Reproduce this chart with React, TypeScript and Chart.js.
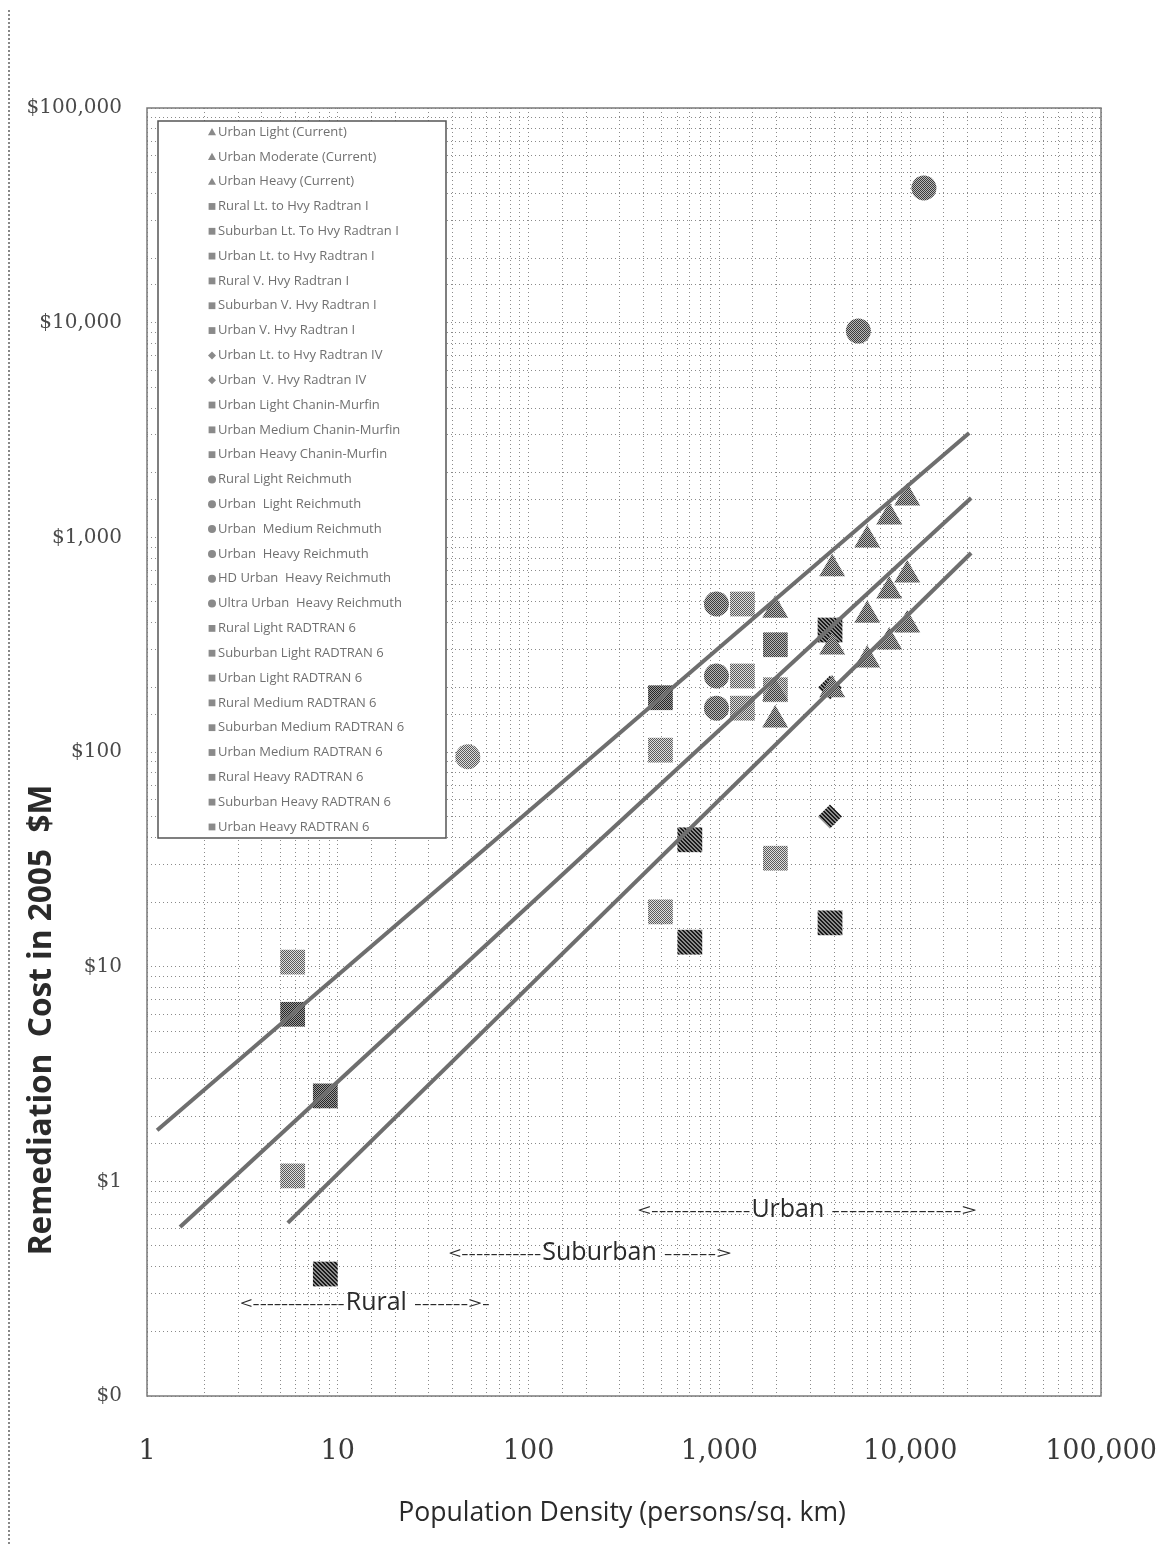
import React, { useEffect, useRef } from 'react';
import { Chart, registerables } from 'chart.js';

Chart.register(...registerables);

// ---------- data ----------
const xDecades = [1, 10, 100, 1000, 10000, 100000];
const xTickLabels = ['1', '10', '100', '1,000', '10,000', '100,000'];
const yDecades = [0.1, 1, 10, 100, 1000, 10000, 100000];
const yTickLabels = ['$0', '$1', '$10', '$100', '$1,000', '$10,000', '$100,000'];

// Current-practice estimates (triangles)
const currentLabels = ['Urban Light (Current)', 'Urban Moderate (Current)', 'Urban Heavy (Current)'];
const currentX = [1960, 3900, 5955, 7760, 9650];
const urbanLightCurrentY = [141, 195, 268, 325, 391];
const urbanModerateCurrentY = [188, 308, 434, 562, 668];
const urbanHeavyCurrentY = [458, 713, 973, 1245, 1524];

// Radtran I (hatched squares)
const radtranILabels = [
  'Rural Lt. to Hvy Radtran I',
  'Suburban Lt. To Hvy Radtran I',
  'Urban Lt. to Hvy Radtran I',
  'Rural V. Hvy Radtran I',
  'Suburban V. Hvy Radtran I',
  'Urban V. Hvy Radtran I',
];
const radtranIX = [8.6, 700, 3800, 8.6, 700, 3800];
const radtranIY = [0.37, 13, 16, 2.5, 39, 370];

// Radtran IV (diamonds)
const radtranIVLabels = ['Urban Lt. to Hvy Radtran IV', 'Urban  V. Hvy Radtran IV'];
const radtranIVX = [3800, 3800];
const radtranIVY = [50, 200];

// Chanin-Murfin (squares)
const chaninLabels = ['Urban Light Chanin-Murfin', 'Urban Medium Chanin-Murfin', 'Urban Heavy Chanin-Murfin'];
const chaninX = [1320, 1320, 1320];
const chaninY = [160, 226, 489];

// Reichmuth (circles)
const reichLabels = [
  'Rural Light Reichmuth',
  'Urban  Light Reichmuth',
  'Urban  Medium Reichmuth',
  'Urban  Heavy Reichmuth',
  'HD Urban  Heavy Reichmuth',
  'Ultra Urban  Heavy Reichmuth',
];
const reichX = [48, 965, 965, 965, 5350, 11800];
const reichY = [95, 160, 226, 489, 9140, 42400];

// RADTRAN 6 (squares)
const radtran6Labels = [
  'Rural Light RADTRAN 6',
  'Suburban Light RADTRAN 6',
  'Urban Light RADTRAN 6',
  'Rural Medium RADTRAN 6',
  'Suburban Medium RADTRAN 6',
  'Urban Medium RADTRAN 6',
  'Rural Heavy RADTRAN 6',
  'Suburban Heavy RADTRAN 6',
  'Urban Heavy RADTRAN 6',
];
const radtran6X = [5.8, 491, 1965, 5.8, 491, 1965, 5.8, 491, 1965];
const radtran6Y = [1.06, 18, 32, 6.0, 102, 195, 10.5, 179, 316];
const radtran6Shade = ['light', 'light', 'light', 'dark', 'light', 'light', 'light', 'dark', 'medium'];

// Trend lines (two end points each)
const trendX1 = [1.13, 1.49, 5.47];
const trendY1 = [1.73, 0.613, 0.64];
const trendX2 = [20370, 20860, 20860];
const trendY2 = [3063, 1524, 845];

// Region annotations
const regionNames = ['Urban', 'Suburban', 'Rural'];
const regionLeftText = ['<-------------', '<-----------', '<-------------'];
const regionRightText = ['--------------->', '------>', '------->-'];
const regionStartX = [372, 38, 3.07];
const regionWordX = [1471, 118, 11.0];
const regionEndX = [22400, 1160, 62.5];
const regionY = [0.736, 0.463, 0.271];

const isDecade = (v: number) => {
  const l = Math.log10(v);
  return Math.abs(l - Math.round(l)) < 1e-9;
};

function makePattern(ctx: CanvasRenderingContext2D, fg: string, bg: string, kind: string) {
  const c = document.createElement('canvas');
  c.width = 4;
  c.height = 4;
  const g = c.getContext('2d')!;
  g.fillStyle = bg;
  g.fillRect(0, 0, 4, 4);
  g.fillStyle = fg;
  if (kind === 'hatch') {
    for (let i = 0; i < 4; i++) {
      g.fillRect(i, i, 1, 1);
      g.fillRect((i + 1) % 4, i, 1, 1);
    }
  } else {
    for (let y = 0; y < 4; y++) for (let x = 0; x < 4; x++) if ((x + y) % 2 === 0) g.fillRect(x, y, 1, 1);
  }
  return ctx.createPattern(c, 'repeat')!;
}

function drawFit(ctx: CanvasRenderingContext2D, text: string, x0: number, x1: number, y: number, font: string) {
  ctx.save();
  ctx.font = font;
  const w = ctx.measureText(text).width;
  ctx.translate(x0, y);
  ctx.scale(Math.max(0.2, (x1 - x0) / w), 1);
  ctx.textAlign = 'left';
  ctx.textBaseline = 'middle';
  ctx.fillText(text, 0, 0);
  ctx.restore();
}

function drawMarker(ctx: CanvasRenderingContext2D, style: string, x: number, y: number, r: number) {
  ctx.beginPath();
  if (style === 'circle') {
    ctx.arc(x, y, r, 0, Math.PI * 2);
  } else if (style === 'triangle') {
    ctx.moveTo(x, y - r);
    ctx.lineTo(x + r, y + r * 0.8);
    ctx.lineTo(x - r, y + r * 0.8);
    ctx.closePath();
  } else if (style === 'rectRot') {
    ctx.moveTo(x, y - r);
    ctx.lineTo(x + r, y);
    ctx.lineTo(x, y + r);
    ctx.lineTo(x - r, y);
    ctx.closePath();
  } else {
    ctx.rect(x - r * 0.85, y - r * 0.85, r * 1.7, r * 1.7);
  }
  ctx.fill();
}

const decorPlugin = {
  id: 'decor',
  afterDatasetsDraw(chart: any) {
    const { ctx, chartArea: a, scales } = chart;
    const sx = scales.x;
    const sy = scales.y;
    ctx.save();

    // plot border
    ctx.strokeStyle = '#7a7a7a';
    ctx.lineWidth = 1.5;
    ctx.setLineDash([]);
    ctx.strokeRect(a.left, a.top, a.right - a.left, a.bottom - a.top);

    // region annotations
    ctx.fillStyle = '#2a2a2a';
    for (let i = 0; i < regionNames.length; i++) {
      const x0 = sx.getPixelForValue(regionStartX[i]);
      const xw = sx.getPixelForValue(regionWordX[i]);
      const x1 = sx.getPixelForValue(regionEndX[i]);
      const y = sy.getPixelForValue(regionY[i]);
      const wordFont = '25px "Open Sans"';
      ctx.font = wordFont;
      const ww = ctx.measureText(regionNames[i]).width;
      drawFit(ctx, regionLeftText[i], x0, xw - 1, y + 1, '17px "Open Sans"');
      ctx.font = wordFont;
      ctx.textAlign = 'left';
      ctx.textBaseline = 'middle';
      ctx.fillText(regionNames[i], xw, y);
      drawFit(ctx, regionRightText[i], xw + ww + 7, x1, y + 1, '17px "Open Sans"');
    }

    // legend box
    const lx = a.left + 11;
    const ly = a.top + 13;
    ctx.fillStyle = '#ffffff';
    ctx.fillRect(lx, ly, 288, 717);
    ctx.strokeStyle = '#555555';
    ctx.lineWidth = 1.5;
    ctx.strokeRect(lx, ly, 288, 717);
    const entries = chart.data.datasets.filter((d: any) => !d.isTrend);
    ctx.font = '13px "Open Sans"';
    ctx.textBaseline = 'middle';
    ctx.textAlign = 'left';
    entries.forEach((d: any, i: number) => {
      const y = a.top + 24 + i * 24.82;
      ctx.fillStyle = '#8a8a8a';
      drawMarker(ctx, d.pointStyle, a.left + 65, y, 4);
      ctx.fillStyle = '#707070';
      ctx.fillText(d.label, a.left + 71, y);
    });

    // y-axis title
    ctx.save();
    ctx.translate(a.left - 105, a.top + 912);
    ctx.rotate(-Math.PI / 2);
    ctx.font = 'bold 26px "Open Sans"';
    const yt = 'Remediation  Cost in 2005  $M';
    const yw = ctx.measureText(yt).width;
    const ys = 26 * 470 / yw;
    ctx.font = `bold ${ys.toFixed(1)}px "Open Sans"`;
    ctx.fillStyle = '#2a2a2a';
    ctx.textAlign = 'center';
    ctx.textBaseline = 'middle';
    ctx.fillText(yt, 0, 0);
    ctx.restore();

    // x-axis title
    ctx.font = '23px "Open Sans"';
    const xt = 'Population Density (persons/sq. km)';
    const xw = ctx.measureText(xt).width;
    ctx.font = `${(23 * 447 / xw).toFixed(1)}px "Open Sans"`;
    ctx.fillStyle = '#2a2a2a';
    ctx.textAlign = 'center';
    ctx.textBaseline = 'middle';
    ctx.fillText(xt, (a.left + a.right) / 2 - 2, a.bottom + 117);

    ctx.restore();
  },
};

export default function App() {
  const ref = useRef<HTMLCanvasElement>(null);

  useEffect(() => {
    const canvas = ref.current!;
    const c2d = canvas.getContext('2d')!;
    const pats: Record<string, CanvasPattern> = {
      light: makePattern(c2d, '#5a5a5a', '#dddddd', 'dots'),
      medium: makePattern(c2d, '#3c3c3c', '#b8b8b8', 'dots'),
      dark: makePattern(c2d, '#262626', '#9a9a9a', 'dots'),
      hatch: makePattern(c2d, '#1a1a1a', '#8c8c8c', 'hatch'),
    };

    const datasets: any[] = [];
    for (let i = 0; i < trendX1.length; i++) {
      datasets.push({
        label: 'trend' + i,
        isTrend: true,
        data: [{ x: trendX1[i], y: trendY1[i] }, { x: trendX2[i], y: trendY2[i] }],
        showLine: true,
        borderColor: '#6e6e6e',
        borderWidth: 4,
        pointRadius: 0,
        fill: false,
      });
    }
    const currentSeries = [urbanLightCurrentY, urbanModerateCurrentY, urbanHeavyCurrentY];
    currentSeries.forEach((ys, i) => {
      datasets.push({
        label: currentLabels[i],
        data: currentX.map((x, k) => ({ x, y: ys[k] })),
        pointStyle: 'triangle',
        pointRadius: 15,
        backgroundColor: pats.medium,
        borderWidth: 0,
      });
    });
    radtranILabels.forEach((l, i) => {
      datasets.push({
        label: l,
        data: [{ x: radtranIX[i], y: radtranIY[i] }],
        pointStyle: 'rect',
        pointRadius: 17.5,
        backgroundColor: i === 3 ? pats.dark : pats.hatch,
        borderWidth: 0,
      });
    });
    radtranIVLabels.forEach((l, i) => {
      datasets.push({
        label: l,
        data: [{ x: radtranIVX[i], y: radtranIVY[i] }],
        pointStyle: 'rectRot',
        pointRadius: 12,
        backgroundColor: pats.hatch,
        borderWidth: 0,
      });
    });
    chaninLabels.forEach((l, i) => {
      datasets.push({
        label: l,
        data: [{ x: chaninX[i], y: chaninY[i] }],
        pointStyle: 'rect',
        pointRadius: 17.5,
        backgroundColor: pats.light,
        borderWidth: 0,
      });
    });
    reichLabels.forEach((l, i) => {
      datasets.push({
        label: l,
        data: [{ x: reichX[i], y: reichY[i] }],
        pointStyle: 'circle',
        pointRadius: 12.5,
        backgroundColor: i === 0 ? pats.light : pats.medium,
        borderWidth: 0,
      });
    });
    radtran6Labels.forEach((l, i) => {
      datasets.push({
        label: l,
        data: [{ x: radtran6X[i], y: radtran6Y[i] }],
        pointStyle: 'rect',
        pointRadius: 17.5,
        backgroundColor: pats[radtran6Shade[i]],
        borderWidth: 0,
      });
    });

    const borderCommon = { display: false, dash: [1, 3] };

    const chart = new Chart(canvas, {
      type: 'scatter',
      data: { datasets },
      options: {
        responsive: false,
        animation: false,
        events: [],
        layout: { padding: { top: 100, right: 57, left: 0, bottom: 0 } },
        plugins: { legend: { display: false }, tooltip: { enabled: false } },
        scales: {
          x: {
            type: 'logarithmic',
            min: 1,
            max: 100000,
            grid: { color: '#8a8a8a', lineWidth: 1, drawTicks: true, tickLength: 40, tickColor: 'rgba(0,0,0,0)' },
            border: borderCommon,
            afterFit: (s: any) => { s.height = 148; },
            ticks: {
              autoSkip: false,
              maxRotation: 0,
              padding: 0,
              color: '#3a3a3a',
              font: { family: '"DejaVu Serif"', size: 27 },
              callback: (v: any) => {
                const n = Number(v);
                if (!isDecade(n)) return '';
                const idx = xDecades.findIndex((d) => Math.abs(d - n) / d < 1e-6);
                return idx >= 0 ? xTickLabels[idx] : '';
              },
            },
          },
          y: {
            type: 'logarithmic',
            min: 0.1,
            max: 100000,
            grid: { color: '#8a8a8a', lineWidth: 1, drawTicks: true, tickLength: 25, tickColor: 'rgba(0,0,0,0)' },
            border: borderCommon,
            afterFit: (s: any) => { s.width = 139; },
            ticks: {
              autoSkip: false,
              padding: 0,
              color: '#4a4a4a',
              font: { family: '"DejaVu Serif"', size: 20 },
              callback: (v: any) => {
                const n = Number(v);
                if (!isDecade(n)) return '';
                const idx = yDecades.findIndex((d) => Math.abs(d - n) / d < 1e-6);
                return idx >= 0 ? yTickLabels[idx] : '';
              },
            },
          },
        },
      } as any,
      plugins: [decorPlugin],
    });
    return () => chart.destroy();
  }, []);

  return (
    <div style={{ position: 'relative', width: 1150, height: 1536 }}>
      <canvas ref={ref} width={1150} height={1536} style={{ display: 'block' }} />
      <div
        style={{
          position: 'absolute',
          left: 0,
          top: -2,
          width: 1150,
          height: 1538,
          borderLeft: '2px dotted #888',
          borderTop: '1px dotted #999',
          boxSizing: 'border-box',
          pointerEvents: 'none',
        }}
      />
    </div>
  );
}
